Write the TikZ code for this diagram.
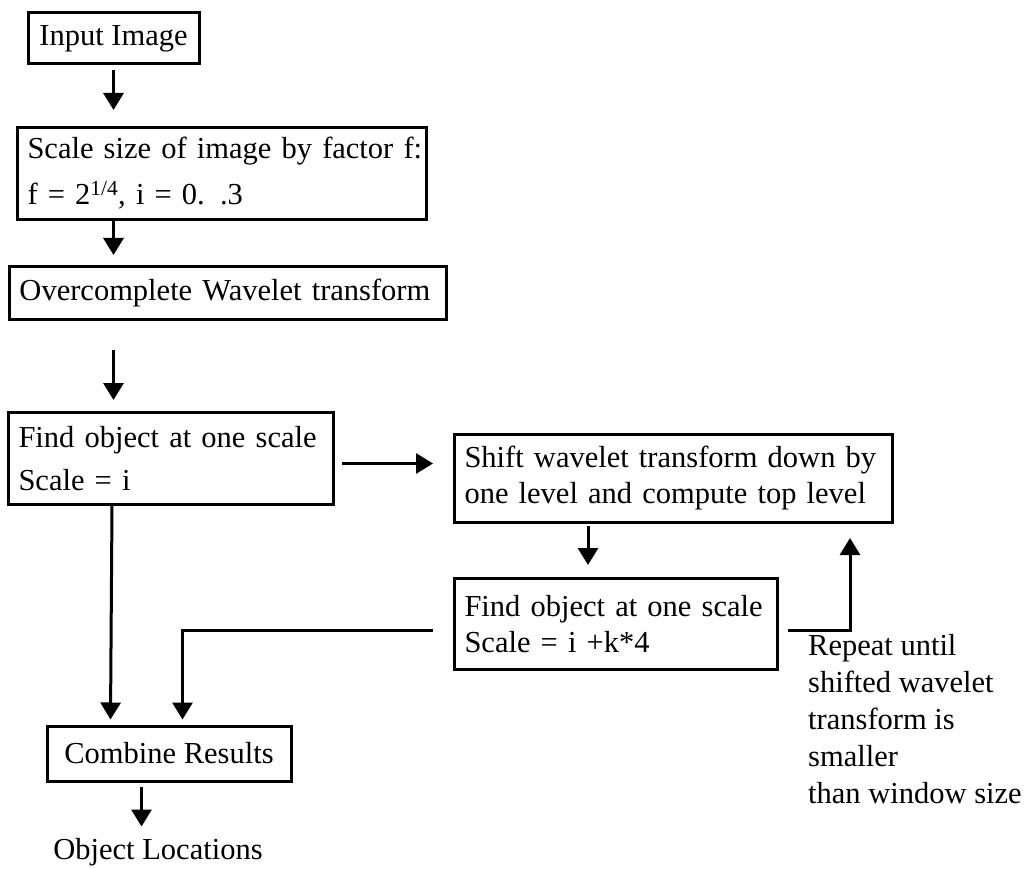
\documentclass[tikz,border=0pt]{standalone}
\usepackage{fontspec}
\setmainfont{Liberation Serif}
\usetikzlibrary{arrows.meta,calc}
\begin{document}
\begin{tikzpicture}[x=1pt,y=-1pt,
  every node/.style={font=\fontsize{30.5}{37}\selectfont},
  box/.style={draw,line width=3pt,inner xsep=10pt,inner ysep=0pt,anchor=north west,align=left},
  arr/.style={line width=3pt,-{Triangle[width=20pt,length=17pt]}}]
\useasboundingbox (0,0) rectangle (1031,869);
\node[box,minimum width=171pt,minimum height=51pt,align=center,anchor=center] (input) at (113.5,38.5) {Input Image};
\node[box,text width=389pt,minimum height=92pt,font=\fontsize{30.5}{46}\selectfont] (scale) at (16,126) {\mbox{Scale size of image by factor f:}\\\mbox{f = 2\textsuperscript{1/4}, i = 0. .3}};
\node[box,text width=417pt,minimum height=53pt] (over) at (8,265) {\mbox{Overcomplete Wavelet transform}};
\node[box,text width=305pt,minimum height=92pt,font=\fontsize{30.5}{43}\selectfont] (find1) at (7,411) {\mbox{Find object at one scale}\\\mbox{Scale = i}};
\node[box,text width=418pt,minimum height=88pt,font=\fontsize{30.5}{36}\selectfont] (shift) at (453,433) {\mbox{Shift wavelet transform down by}\\\mbox{one level and compute top level}};
\node[box,text width=303pt,minimum height=91pt,font=\fontsize{30.5}{36}\selectfont] (find2) at (453,577) {\mbox{Find object at one scale}\\\mbox{Scale = i +k*4}};
\node[box,minimum width=244pt,minimum height=55pt,align=center,anchor=center] (combine) at (169,753.5) {Combine Results};
\node[inner sep=0pt] (out) at (158,852) {Object Locations};
\node[inner sep=0pt,anchor=north west,align=left,font=\fontsize{30.5}{37}\selectfont] (repeat) at (808,634) {Repeat until\\shifted wavelet\\transform is\\smaller\\than window size};

\draw[arr] ($(input.south)+(0,5)$) -- ($(input.south |- scale.north)+(0,-16)$);
\draw[arr] (input.south |- scale.south) -- ($(input.south |- over.north)+(0,-10)$);
\draw[arr] ($(input.south |- over.south)+(0,29)$) -- ($(input.south |- find1.north)+(0,-11)$);
\draw[arr] ($(find1.east)+(7,5)$) -- ($(find1.east -| shift.west)+(-20,5)$);
\draw[arr] ($(shift.south west)+(135,2)$) -- ($(find2.north west)+(135,-12)$);
\draw[arr] ($(find2.east)+(9,6)$) -| ($(shift.south east)+(-44,14)$);
\draw[arr] ($(find2.west)+(-20,6)$) -| ($(combine.north west)+(137,-5)$);
\draw[arr] ($(find1.south west)+(105,0)$) -- ($(combine.north west)+(65,-5)$);
\draw[arr] ($(combine.south west)+(96,4)$) -- ($(combine.south west)+(96,44)$);
\end{tikzpicture}
\end{document}
